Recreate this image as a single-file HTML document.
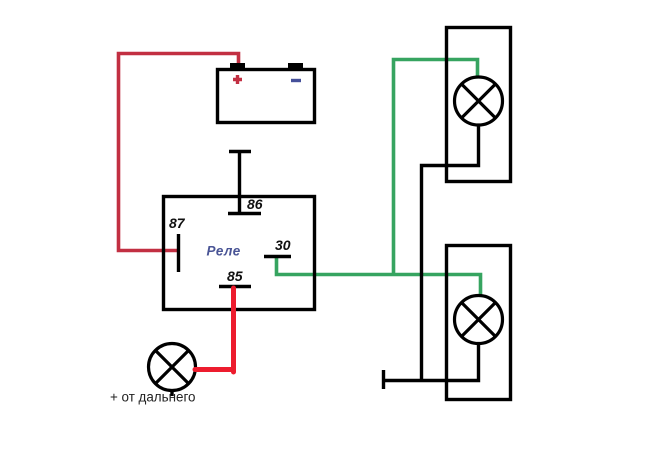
<!DOCTYPE html>
<html><head><meta charset="utf-8"><style>
html,body{margin:0;padding:0;background:#fff;width:658px;height:472px;overflow:hidden}
svg{display:block}
text{font-family:"Liberation Sans","Noto Sans CJK SC",sans-serif}
</style></head><body>
<svg width="658" height="472" viewBox="0 0 658 472" xmlns="http://www.w3.org/2000/svg">
<rect width="658" height="472" fill="#fff"/>
<path d="M238.500 64V53.500H118.500V250.500H178" fill="none" stroke="#c22f42" stroke-width="3.600"/>
<path d="M276.500 257V274.500H480.500V295M393.500 274.500V59.500H477.500V77" fill="none" stroke="#36a460" stroke-width="3.600"/>
<g fill="none" stroke="#000" stroke-width="3.400">
<rect x="217.500" y="69.500" width="97" height="53"/>
<rect x="163.500" y="196.500" width="151" height="113"/>
<rect x="446.500" y="27.500" width="64" height="154"/>
<rect x="446.500" y="245.500" width="64" height="154"/>
<path d="M229 151.500H251M239.500 151V213M228 213.500H261"/>
<path d="M178.500 234V272M264 256.500H291M219 286.500H251"/>
<path d="M478.500 125V165.500H421.500V380M478.500 343V380.500H384M383.500 370V389"/>
<path d="M172 390V396"/>
</g>
<rect x="230" y="63" width="15" height="7" fill="#000"/>
<rect x="288" y="63" width="15" height="7" fill="#000"/>
<path d="M233 79.500H242M237.500 75V84" stroke="#c22f42" stroke-width="3.400" fill="none"/>
<path d="M291 80.500H301" stroke="#45509a" stroke-width="3.400" fill="none"/>
<g fill="#fff" stroke="#000" stroke-width="3.200">
<circle cx="478.500" cy="101" r="24"/>
<circle cx="478.500" cy="319.500" r="24"/>
<circle cx="172" cy="367" r="23.500"/>
</g>
<g fill="none" stroke="#000" stroke-width="3.200">
<path d="M461.500 84L495.500 118M495.500 84L461.500 118"/>
<path d="M461.500 302.500L495.500 336.500M495.500 302.500L461.500 336.500"/>
<path d="M155 350L189 384M189 350L155 384"/>
</g>
<path d="M233.500 288V372M195 369.500H233" fill="none" stroke="#ed1c2e" stroke-width="5" stroke-linecap="round"/>
<g font-style="italic" font-size="14" font-weight="bold" fill="#111">
<text x="247" y="209">86</text>
<text x="169" y="228">87</text>
<text x="275" y="250">30</text>
<text x="227" y="281">85</text>
</g>
<text x="206.500" y="255.500" font-size="13.500" font-style="italic" font-weight="bold" fill="#4a5596" letter-spacing="0.500">Реле</text>
<text x="110" y="401.500" font-size="13.400" fill="#222">+ от дальнего</text>
</svg>
</body></html>
